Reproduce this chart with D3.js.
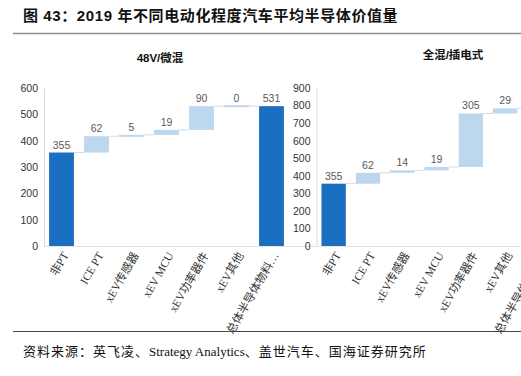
<!DOCTYPE html>
<html>
<head>
<meta charset="utf-8">
<script src="https://cdn.jsdelivr.net/npm/d3@7"></script>
<style>
  body { margin: 0; background: #fff; }
  svg { display: block; }
</style>
</head>
<body>
<svg id="chart" width="521" height="376"></svg>
<script>
// data
const categories = ["非PT", "ICE PT", "xEV传感器", "xEV MCU", "xEV功率器件", "xEV其他", "总体半导体物料…"];
const barKinds = ["total", "step", "step", "step", "step", "step", "total"];
const mildValues = [355, 62, 5, 19, 90, 0, 531];
const fullValues = [355, 62, 14, 19, 305, 29, 784];
const mildTicks = [0, 100, 200, 300, 400, 500, 600];
const fullTicks = [0, 100, 200, 300, 400, 500, 600, 700, 800, 900];

const W = 521;
const svg = d3.select("#chart");
const serif = "'Liberation Serif', 'Noto Sans CJK SC', serif";
const sans = "'Liberation Sans', 'Noto Sans CJK SC', sans-serif";

// header
svg.append("text")
    .attr("x", 23).attr("y", 21)
    .attr("font-family", sans)
    .attr("font-weight", "bold")
    .attr("font-size", 15)
    .attr("letter-spacing", 0.6)
    .attr("fill", "#111")
    .text("图 43：2019 年不同电动化程度汽车平均半导体价值量");

svg.append("line")
    .attr("x1", 13).attr("x2", W).attr("y1", 33.5).attr("y2", 33.5)
    .attr("stroke", "#8c8c8c").attr("stroke-width", 1.5);

svg.append("line")
    .attr("x1", 13).attr("x2", W).attr("y1", 331.5).attr("y2", 331.5)
    .attr("stroke", "#444").attr("stroke-width", 1);

const source = svg.append("text")
    .attr("x", 23).attr("y", 356)
    .attr("font-family", serif)
    .attr("font-size", 13)
    .attr("fill", "#111");
[["资料来源：英飞凌、", 1], ["Strategy Analytics", 0], ["、盖世汽车、国海证券研究所", 1]]
    .forEach(function(p) {
        source.append("tspan").attr("letter-spacing", p[1]).text(p[0]);
    });

function waterfall(values) {
    let run = 0;
    return values.map(function(v, i) {
        if (barKinds[i] === "total") {
            run = v;
            return { i: i, v: v, lo: 0, hi: v, kind: "total" };
        }
        const lo = run;
        run += v;
        return { i: i, v: v, lo: lo, hi: run, kind: "step" };
    });
}

function drawPanel(opts) {
    const g = svg.append("g");
    const y = d3.scaleLinear().domain([0, opts.max]).range([246, 88]);
    const x = d3.scaleBand().domain(d3.range(categories.length))
        .range([opts.left, opts.left + opts.step * categories.length])
        .paddingInner(0.29).paddingOuter(0.145);

    // title
    g.append("text")
        .attr("x", opts.titleX).attr("y", opts.titleY)
        .attr("text-anchor", "middle")
        .attr("font-family", sans)
        .attr("font-weight", "bold")
        .attr("font-size", 11.5)
        .attr("fill", "#111")
        .text(opts.title);

    // y axis
    const axis = g.append("g")
        .attr("transform", "translate(" + opts.left + ",0)")
        .call(d3.axisLeft(y).tickValues(opts.ticks).tickSize(0).tickPadding(6));
    axis.select(".domain").attr("stroke", "#d9d9d9");
    axis.selectAll("text")
        .attr("font-family", sans)
        .attr("font-size", 10.5)
        .attr("fill", "#333");

    g.append("line")
        .attr("x1", opts.left).attr("x2", W)
        .attr("y1", y(0) + 0.5).attr("y2", y(0) + 0.5)
        .attr("stroke", "#e3e3e3");

    const bars = waterfall(opts.values);

    // connectors
    g.selectAll(".conn")
        .data(bars.slice(0, -1))
        .enter().append("line")
        .attr("x1", d => x(d.i) + x.bandwidth())
        .attr("x2", d => x(d.i + 1))
        .attr("y1", d => y(d.hi))
        .attr("y2", d => y(d.hi))
        .attr("stroke", "#d9d9d9");

    g.selectAll(".bar")
        .data(bars)
        .enter().append("rect")
        .attr("x", d => x(d.i))
        .attr("width", x.bandwidth())
        .attr("y", d => d.v === 0 ? y(d.hi) - 1 : y(d.hi))
        .attr("height", d => Math.max(2, y(d.lo) - y(d.hi)))
        .attr("fill", d => d.kind === "total" ? "#1b6fc0" : "#bdd7ee");

    // value labels (the panel is cropped at the page edge, like the source)
    g.selectAll(".val")
        .data(bars.filter(d => x(d.i) < W))
        .enter().append("text")
        .attr("x", d => x(d.i) + x.bandwidth() / 2)
        .attr("y", d => y(d.hi) - 4)
        .attr("text-anchor", "middle")
        .attr("font-family", sans)
        .attr("font-size", 10.5)
        .attr("fill", "#595959")
        .text(d => d.v);

    g.selectAll(".cat")
        .data(categories)
        .enter().append("text")
        .attr("transform", (d, i) => "translate(" + (x(i) + x.bandwidth() / 2 + 4) + ",253) rotate(-60)")
        .attr("text-anchor", "end")
        .attr("dy", "0.35em")
        .attr("font-family", serif)
        .attr("font-size", 11.5)
        .attr("fill", "#333")
        .text(d => d);
}

drawPanel({ left: 44, step: 35, max: 600, ticks: mildTicks, values: mildValues,
    title: "48V/微混", titleX: 160, titleY: 62 });
drawPanel({ left: 316.5, step: 34.3, max: 900, ticks: fullTicks, values: fullValues,
    title: "全混/插电式", titleX: 453, titleY: 59 });
</script>
</body>
</html>
